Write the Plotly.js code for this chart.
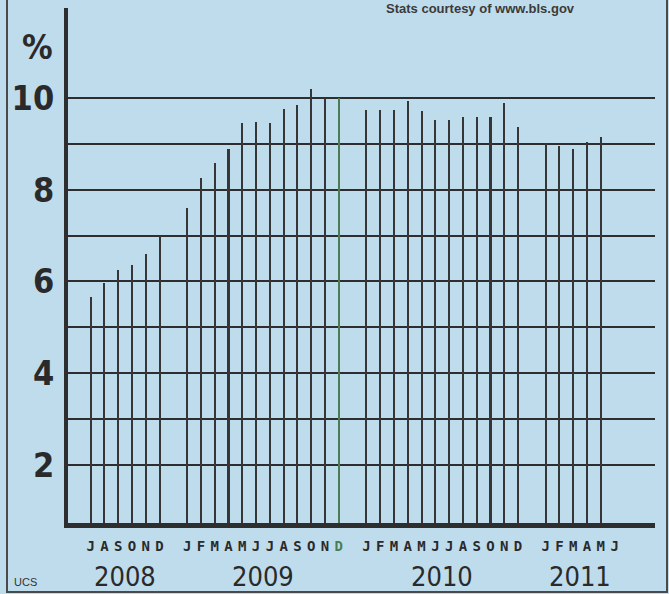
<!DOCTYPE html>
<html><head><meta charset="utf-8">
<script src="https://cdn.plot.ly/plotly-3.0.1.min.js"></script>
<style>html,body{margin:0;padding:0;background:#bfdcec;}#chart{width:669px;height:594px;}</style>
</head><body><div id="chart"></div>
<script>
// ---- data (US unemployment rate, %) ----
const years = ['2008', '2009', '2010', '2011'];
const letters2008 = ['J','A','S','O','N','D'];
const letters2009 = ['J','F','M','A','M','J','J','A','S','O','N','D'];
const letters2010 = ['J','F','M','A','M','J','J','A','S','O','N','D'];
const letters2011 = ['J','F','M','A','M','J'];
const rate2008 = [5.66, 5.96, 6.25, 6.36, 6.60, 7.00];
const rate2009 = [7.60, 8.26, 8.58, 8.89, 9.45, 9.48, 9.46, 9.75, 9.85, 10.19, 10.00, 10.00];
const rate2010 = [9.74, 9.74, 9.74, 9.94, 9.72, 9.52, 9.52, 9.59, 9.59, 9.59, 9.90, 9.36];
const rate2011 = [9.01, 8.95, 8.89, 9.03, 9.14];
const yTickVals = [2, 3, 4, 5, 6, 7, 8, 9, 10];
const yTickText = ['2', '', '4', '', '6', '', '8', '', '10'];

// ---- build ----
const letterGroups = [letters2008, letters2009, letters2010, letters2011];
const rateGroups = [rate2008, rate2009, rate2010, rate2011];
const GREEN = '#4a7d55', DARK = '#363636';
let xs = [], ys = [], cols = [], tickvals = [], ticktext = [], yearX = [];
let off = 0;
letterGroups.forEach((g, gi) => {
  g.forEach((l, i) => {
    tickvals.push(off + i);
    const isGreen = (gi === 1 && i === g.length - 1);
    ticktext.push(isGreen ? '<span style="color:' + GREEN + '">' + l + '</span>' : l);
  });
  rateGroups[gi].forEach((v, i) => {
    xs.push(off + i); ys.push(v);
    cols.push(gi === 1 && i === rateGroups[gi].length - 1 ? GREEN : DARK);
  });
  yearX.push(off + (g.length - 1) / 2);
  off += g.length + 1;
});

const L = 68, R = 14, T = 8, B = 71, W = 669, H = 594;
const pw = W - L - R, ph = H - T - B;
const px2paperX = p => (p - L) / pw;
const px2paperY = p => (H - B - p) / ph;

const trace = {
  type: 'bar', x: xs, y: ys, base: 0, width: 0.15,
  marker: { color: cols, line: { width: 0 } },
  hoverinfo: 'x+y'
};

const annotations = years.map((y, i) => ({
  text: y, x: yearX[i], xref: 'x', y: px2paperY(576), yref: 'paper',
  xanchor: 'center', yanchor: 'middle', showarrow: false,
  font: { family: 'DejaVu Sans Condensed', size: 27, color: '#2a2a2a' }
}));
annotations.push({
  text: '%', x: px2paperX(37), xref: 'paper', y: 11.12, yref: 'y',
  xanchor: 'center', yanchor: 'middle', showarrow: false,
  font: { family: 'DejaVu Sans Condensed', size: 34, weight: 'bold', color: '#2a2a2a' }
});
annotations.push({
  text: 'UCS', x: px2paperX(12), xref: 'paper', y: px2paperY(582), yref: 'paper',
  xanchor: 'left', yanchor: 'middle', showarrow: false,
  font: { family: 'Liberation Sans', size: 11, color: '#333' }
});
annotations.push({
  text: 'Stats courtesy of www.bls.gov', x: px2paperX(480), xref: 'paper', y: px2paperY(8), yref: 'paper',
  xanchor: 'center', yanchor: 'middle', showarrow: false,
  font: { family: 'Liberation Sans', size: 13, weight: 'bold', color: '#3a3a3a' }
});

const layout = {
  width: W, height: H,
  margin: { l: L, r: R, t: T, b: B, pad: 0 },
  paper_bgcolor: '#bfdcec', plot_bgcolor: '#bfdcec',
  showlegend: false, bargap: 0,
  xaxis: {
    range: [(L - 90.6) / 13.79, (L + pw - 90.6) / 13.79],
    tickvals: tickvals, ticktext: ticktext, ticks: '', showgrid: false, zeroline: false,
    showline: true, linewidth: 5, linecolor: '#2e2e2e',
    tickfont: { family: 'DejaVu Sans Mono', size: 14, weight: 'bold', color: '#2a2a2a' },
    ticklabelstandoff: 6, fixedrange: true
  },
  yaxis: {
    range: [0.736, 11.96],
    tickvals: yTickVals, ticktext: yTickText, ticks: '',
    showgrid: true, gridcolor: '#2e2e2e', gridwidth: 2, zeroline: false,
    showline: true, linewidth: 4, linecolor: '#2e2e2e',
    tickfont: { family: 'DejaVu Sans Condensed', size: 34, weight: 'bold', color: '#2a2a2a' },
    ticklabelstandoff: 3, fixedrange: true
  },
  annotations: annotations,
  shapes: [{
    type: 'rect', xref: 'paper', yref: 'paper',
    x0: px2paperX(7), x1: px2paperX(667), y0: px2paperY(592), y1: px2paperY(-5),
    line: { color: '#4a4a4a', width: 2 }, fillcolor: 'rgba(0,0,0,0)', layer: 'above'
  }]
};

Plotly.newPlot('chart', [trace], layout, { displayModeBar: false, staticPlot: true });
</script></body></html>
